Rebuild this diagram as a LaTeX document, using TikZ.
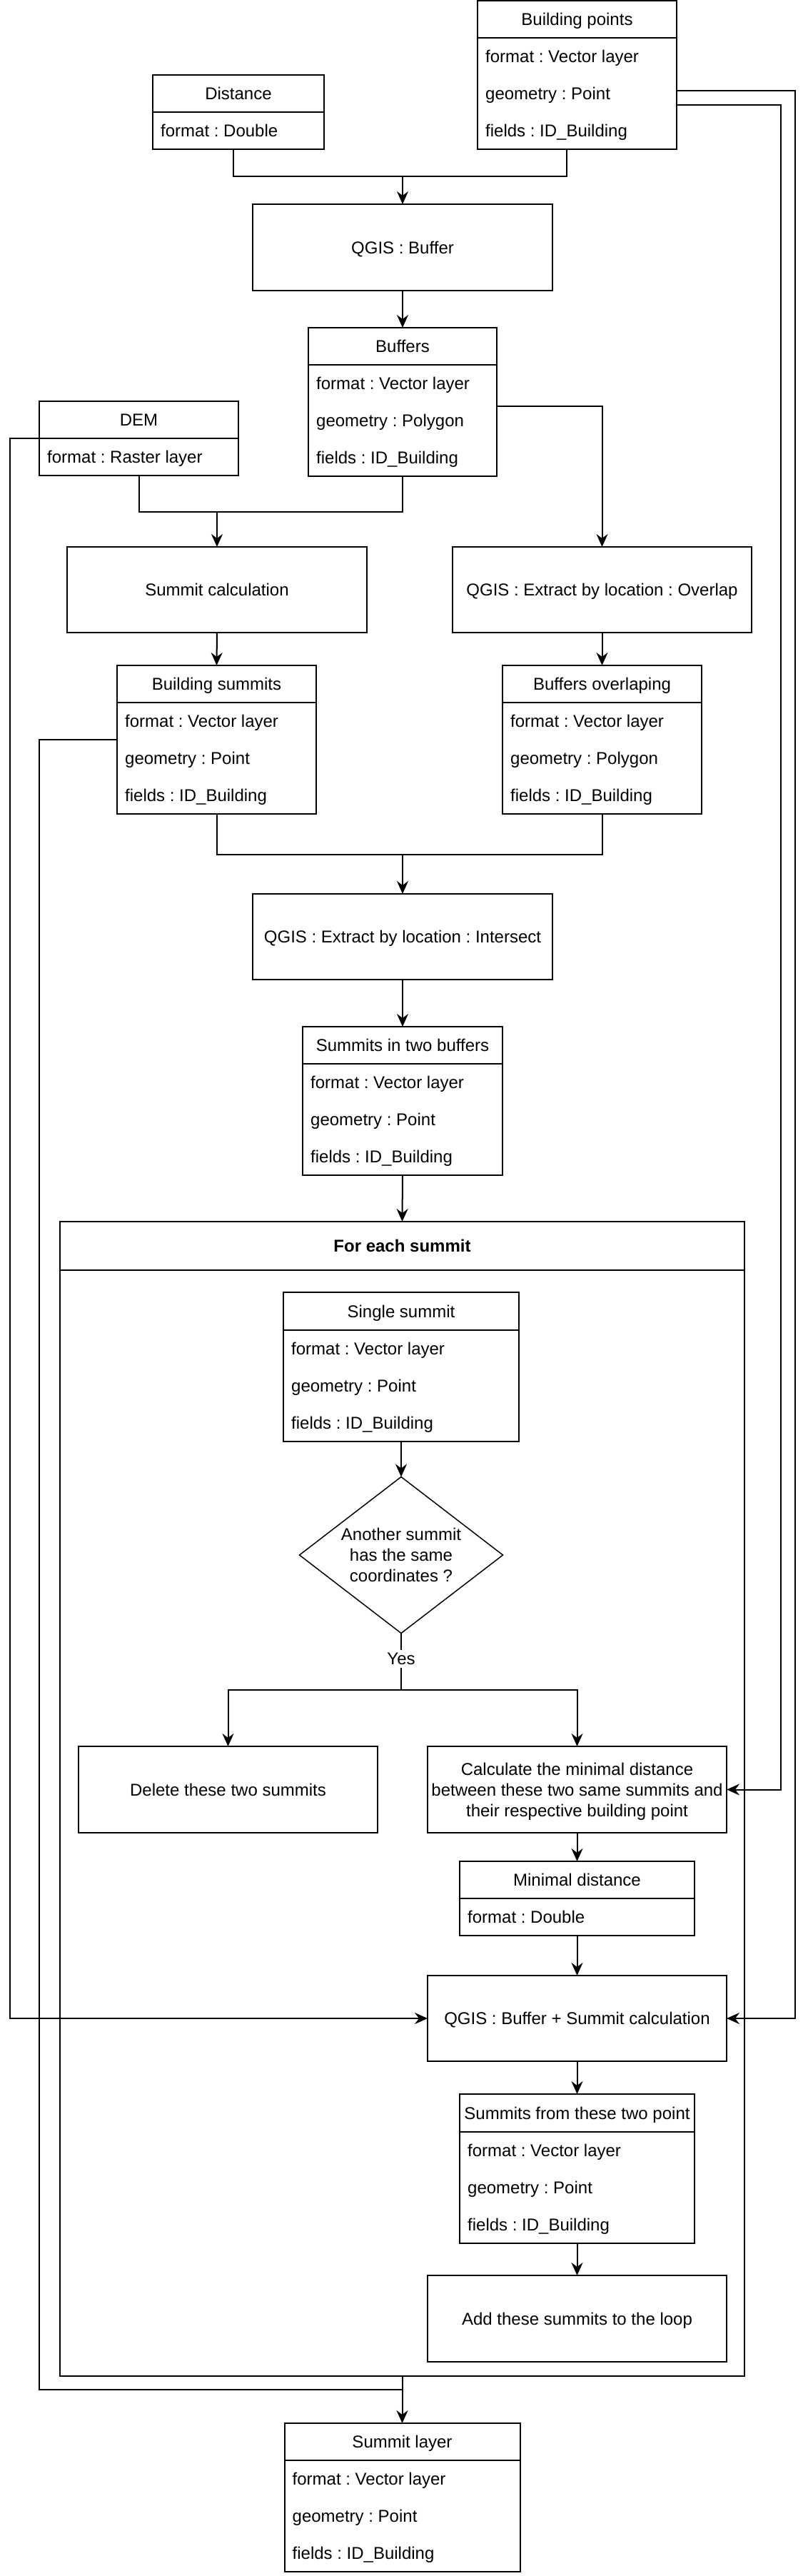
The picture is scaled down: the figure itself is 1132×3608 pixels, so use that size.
\documentclass[tikz,border=0pt]{standalone}
\usepackage{fontspec}
\setmainfont{Liberation Sans}
\frenchspacing
\usetikzlibrary{arrows.meta,shapes.geometric,calc}
% name, x, y, w, h, header h, title, row h, rows
\newcommand\listbox[9]{%
  \node[box, minimum width=#4pt, minimum height=#5pt] (#1) at (#2,#3) {};
  \draw[ln] (#2,{#3+#6}) -- ({#2+#4},{#3+#6});
  \node[ttl] (#1-t) at ({#2+#4/2},{#3+#6/2}) {#7};
  \foreach \r [count=\i] in {#9} {\node[rowtxt] (#1-\i) at ({#2+11},{#3+#6+(\i-0.5)*#8}) {\r};}
}
\begin{document}
\begin{tikzpicture}[x=1pt,y=-1pt, font=\fontsize{24}{28.8}\selectfont\frenchspacing,
  ln/.style={line width=2pt},
  arr/.style={line width=2pt, -{Stealth[length=18pt,width=16pt,inset=6pt]}},
  box/.style={draw, line width=2pt, inner sep=0pt, outer sep=0pt, anchor=north west},
  t1/.style={text height=17pt, text depth=0pt},
  rowtxt/.style={t1, inner sep=0pt, anchor=west},
  ttl/.style={t1, inner sep=0pt},
  lbl/.style={t1, fill=white, inner xsep=2pt, inner ysep=4pt}]
\fill[white] (0,0) rectangle (1132,3608);
\useasboundingbox (0,0) rectangle (1132,3608);

% data boxes
\listbox{bp}{669}{1}{279}{208}{52}{Building points}{52}{format : Vector layer,geometry : Point,fields : ID\_Building}
\listbox{dist}{214}{105}{240}{104}{52}{Distance}{52}{format : Double}
\listbox{buf}{432}{459}{264}{208}{52}{Buffers}{52}{format : Vector layer,geometry : Polygon,fields : ID\_Building}
\listbox{dem}{55}{562}{279}{104}{52}{DEM}{52}{format : Raster layer}
\listbox{bsum}{164}{932}{279}{208}{52}{Building summits}{52}{format : Vector layer,geometry : Point,fields : ID\_Building}
\listbox{bov}{704}{932}{279}{208}{52}{Buffers overlaping}{52}{format : Vector layer,geometry : Polygon,fields : ID\_Building}
\listbox{s2b}{424}{1438}{280}{208}{52}{Summits in two buffers}{52}{format : Vector layer,geometry : Point,fields : ID\_Building}

% process boxes
\node[box, t1, minimum width=420pt, minimum height=121pt] (qbuf) at (354,286) {QGIS : Buffer};
\node[box, t1, minimum width=420pt, minimum height=120pt] (scalc) at (94,766) {Summit calculation};
\node[box, t1, minimum width=419pt, minimum height=120pt] (qov) at (634,766) {QGIS : Extract by location : Overlap};
\node[box, t1, minimum width=420pt, minimum height=120pt] (qint) at (354,1252) {QGIS : Extract by location : Intersect};

% loop container
\node[box, minimum width=959pt, minimum height=1617pt] (loop) at (84,1711) {};
\draw[ln] (84,1779) -- (1043,1779);
\node[ttl, font=\fontsize{24}{28.8}\selectfont\bfseries] (loop-t) at (563.5,1745) {For each summit};

\listbox{ss}{397}{1810}{330}{209}{53}{Single summit}{52}{format : Vector layer,geometry : Point,fields : ID\_Building}
\node[draw, diamond, aspect=1.3, inner sep=0pt, outer sep=0pt, line width=1.5pt,
      minimum width=285pt, minimum height=219pt, align=center] (dia) at (562,2178)
      {Another summit\\has the same\\coordinates ?};
\node[box, t1, minimum width=419pt, minimum height=121pt] (del) at (110,2446) {Delete these two summits};
\node[box, minimum width=419pt, minimum height=121pt] (calc) at (599,2446) {};
\node[align=center, inner sep=0pt] (calc-t) at ($(calc.center)+(0,3)$)
      {Calculate the minimal distance\\between these two same summits and\\their respective building point};
\listbox{mind}{644}{2607}{329}{104}{52}{Minimal distance}{52}{format : Double}
\node[box, t1, minimum width=419pt, minimum height=120pt] (qbs) at (599,2767) {QGIS : Buffer + Summit calculation};
\listbox{sfp}{644}{2933}{329}{209}{53}{Summits from these two point}{52}{format : Vector layer,geometry : Point,fields : ID\_Building}
\node[box, t1, minimum width=419pt, minimum height=121pt] (add) at (599,3187) {Add these summits to the loop};

\listbox{sl}{398.5}{3394}{330}{208}{52}{Summit layer}{52}{format : Vector layer,geometry : Point,fields : ID\_Building}

% connectors
\coordinate (j1) at (564,247);
\draw[ln] ([xshift=-7pt]dist.south) |- (j1);
\draw[ln] ([xshift=-14.5pt]bp.south) |- (j1);
\draw[arr] (j1) -- (qbuf.north);
\draw[arr] (qbuf.south) -- (buf.north);

\coordinate (j2) at (304,717);
\draw[ln] (dem.south) |- (j2);
\draw[ln] (buf.south) |- (j2);
\draw[arr] (j2) -- (scalc.north);
\draw[arr] ([yshift=-6pt]buf.east) -| (qov.north);

\draw[arr] (scalc.south) -- (bsum.north);
\draw[arr] (qov.south) -- (bov.north);

\coordinate (j3) at (564,1197);
\draw[ln] (bsum.south) |- (j3);
\draw[ln] (bov.south) |- (j3);
\draw[arr] (j3) -- (qint.north);
\draw[arr] (qint.south) -- (s2b.north);
\draw[arr] (s2b.south) -- (loop.north);

\draw[arr] (ss.south) -- (dia.north);
\coordinate (j4) at (562,2367);
\draw[ln] (dia.south) -- node[lbl, pos=0.45] (yes) {Yes} (j4);
\draw[arr] (j4) -| (del.north);
\draw[arr] (j4) -| (calc.north);

\draw[arr] (calc.south) -- (mind.north);
\draw[arr] (mind.south) -- (qbs.north);
\draw[arr] (qbs.south) -- (sfp.north);
\draw[arr] (sfp.south) -- (add.north);

\draw[arr] ([yshift=-22pt]bp.east) -- ++(166,0) |- (qbs.east);
\draw[arr] ([yshift=-42pt]bp.east) -- ++(146,0) |- (calc.east);
\draw[arr] (dem.west) -- ++(-41,0) |- (qbs.west);

\coordinate (j5) at (563.5,3347);
\draw[ln] (bsum.west) -- ++(-109,0) |- (j5);
\draw[arr] (loop.south) -- (sl.north);
\end{tikzpicture}
\end{document}
